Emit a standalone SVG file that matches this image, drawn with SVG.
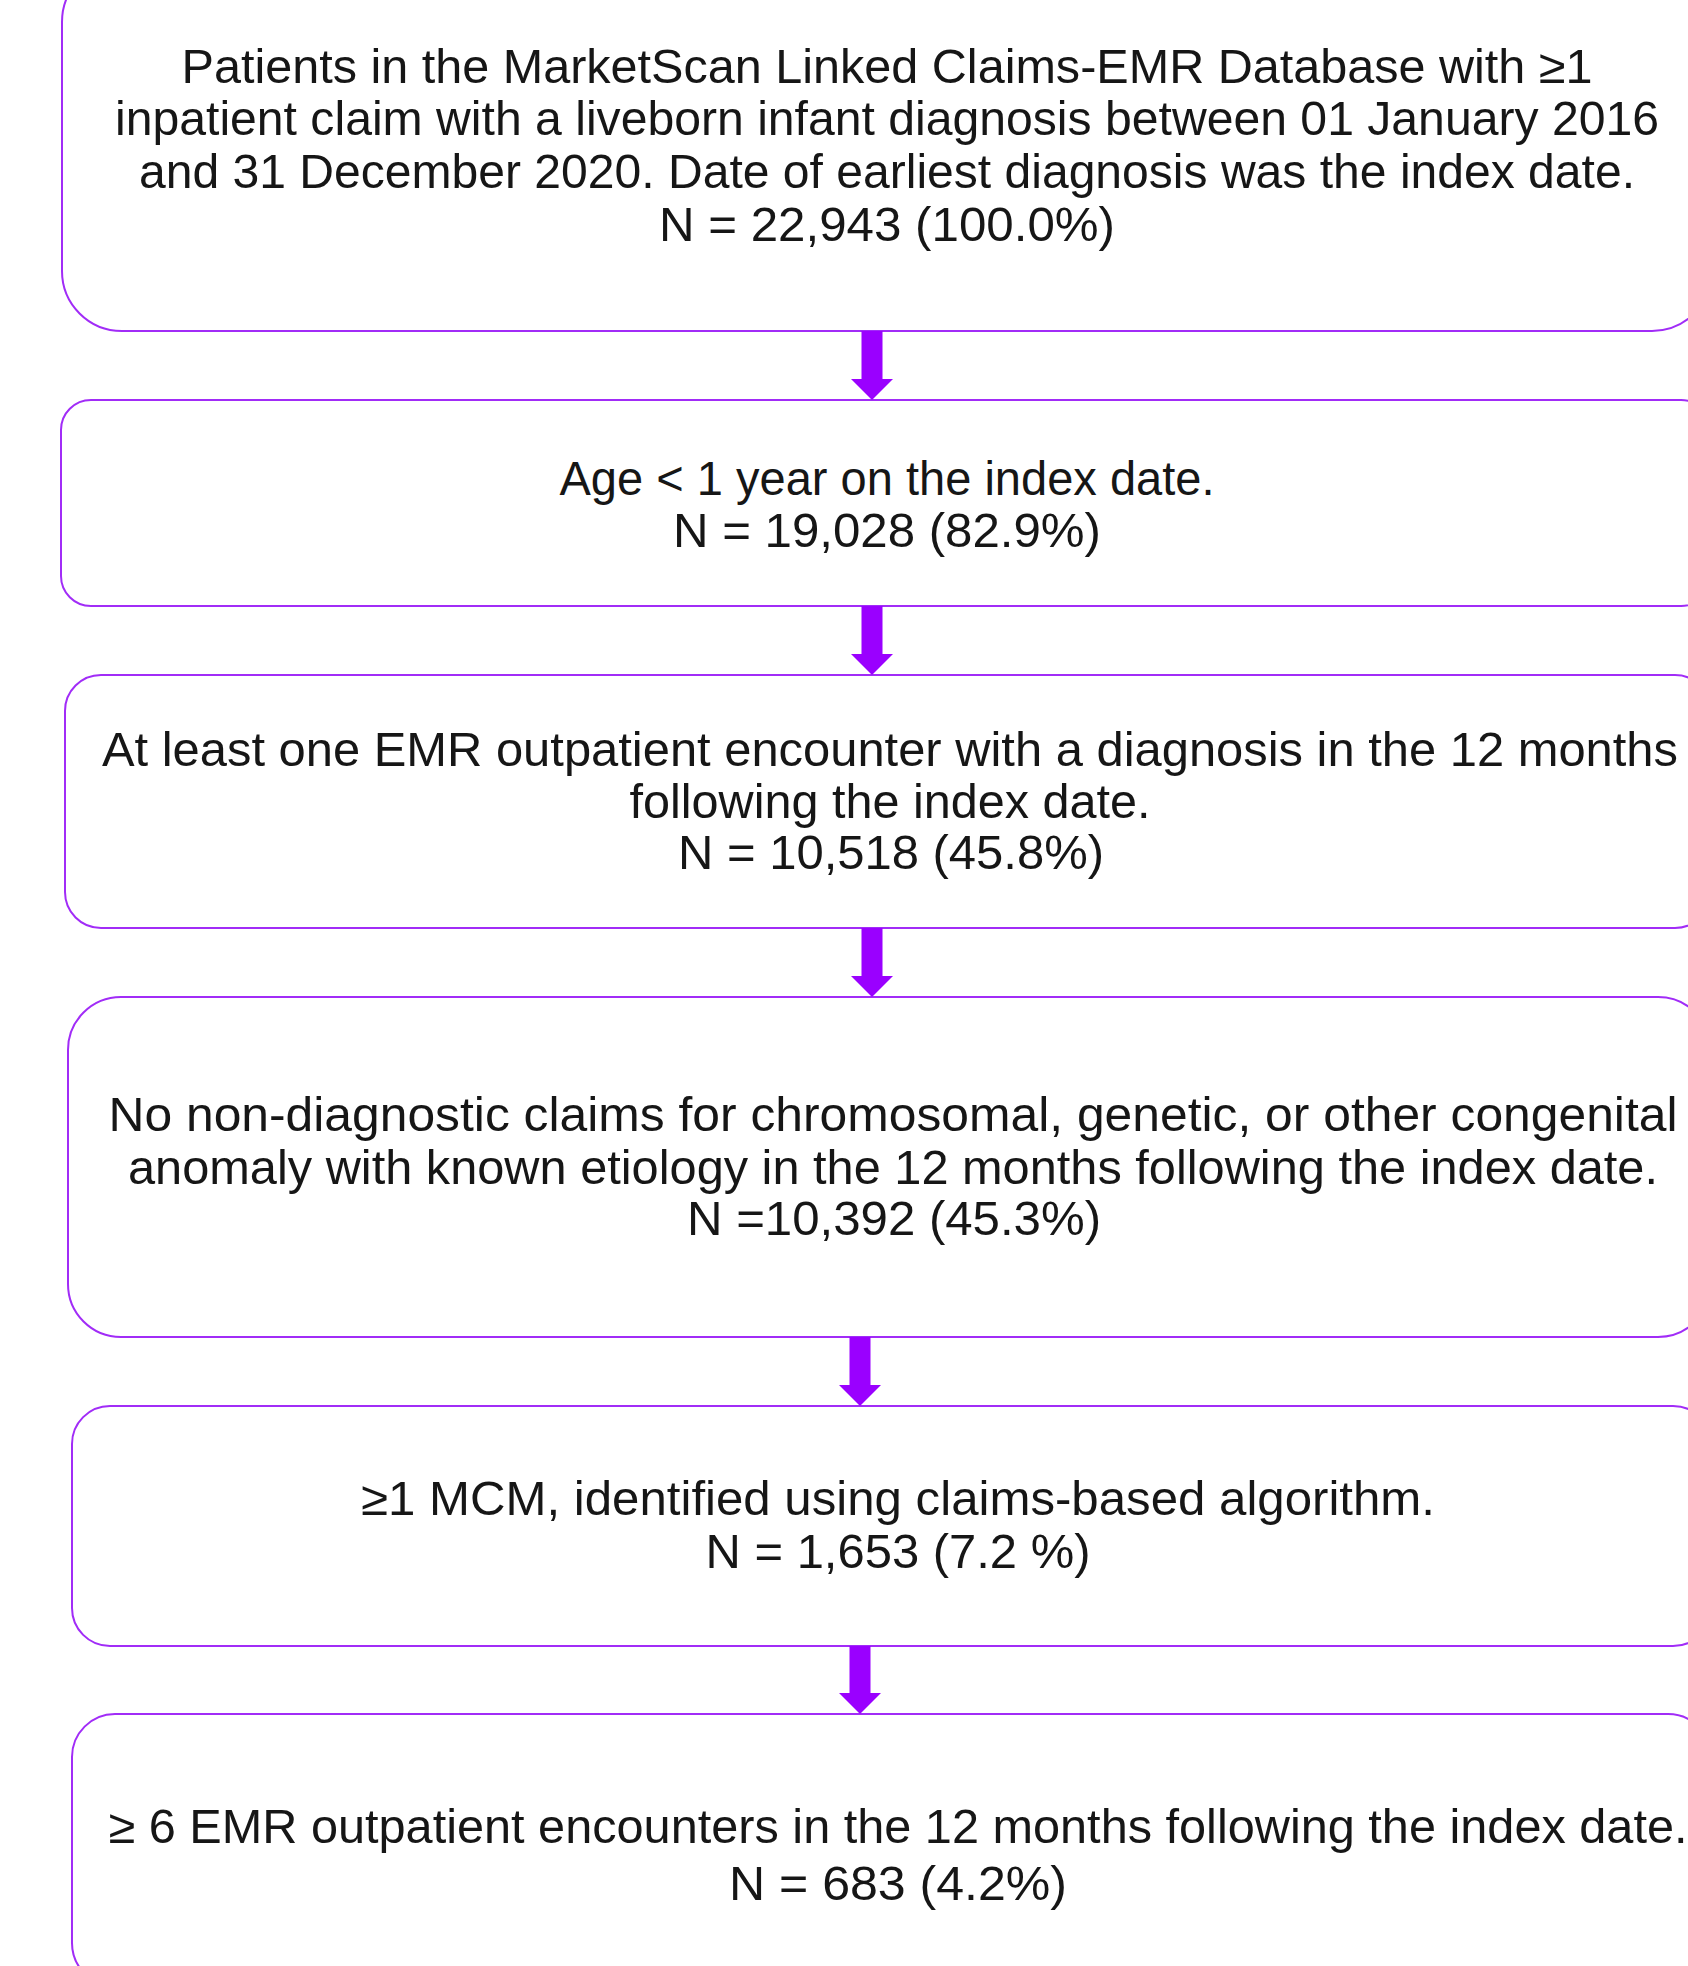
<svg xmlns="http://www.w3.org/2000/svg" width="1688" height="1966" viewBox="0 0 1688 1966">
<style>
.box{fill:#ffffff;stroke:#a12cf7;stroke-width:2}
.t{font-family:"Liberation Sans",Arial,sans-serif;font-size:48px;fill:#161616;text-anchor:middle}
.arr{fill:#9a00ff}
</style>
<rect width="1688" height="1966" fill="#ffffff"/>
<g id="node1">
<rect class="box" x="62" y="-38" width="1650" height="369" rx="60" ry="60"/>
<text class="t" x="887" y="83" textLength="1411" lengthAdjust="spacingAndGlyphs">Patients in the MarketScan Linked Claims-EMR Database with ≥1</text>
<text class="t" x="887" y="135" textLength="1544" lengthAdjust="spacingAndGlyphs">inpatient claim with a liveborn infant diagnosis between 01 January 2016</text>
<text class="t" x="887" y="188" textLength="1496" lengthAdjust="spacingAndGlyphs">and 31 December 2020. Date of earliest diagnosis was the index date.</text>
<text class="t" x="887" y="241" textLength="456" lengthAdjust="spacingAndGlyphs">N = 22,943 (100.0%)</text>
</g>
<g id="node2">
<rect class="box" x="61" y="400" width="1650" height="206" rx="30" ry="30"/>
<text class="t" x="887" y="495" textLength="655" lengthAdjust="spacingAndGlyphs">Age &lt; 1 year on the index date.</text>
<text class="t" x="887" y="547" textLength="428" lengthAdjust="spacingAndGlyphs">N = 19,028 (82.9%)</text>
</g>
<g id="node3">
<rect class="box" x="65" y="675" width="1646" height="253" rx="36" ry="36"/>
<text class="t" x="890" y="766" textLength="1576" lengthAdjust="spacingAndGlyphs">At least one EMR outpatient encounter with a diagnosis in the 12 months</text>
<text class="t" x="890" y="818" textLength="521" lengthAdjust="spacingAndGlyphs">following the index date.</text>
<text class="t" x="891" y="869" textLength="426" lengthAdjust="spacingAndGlyphs">N = 10,518 (45.8%)</text>
</g>
<g id="node4">
<rect class="box" x="68" y="997" width="1643" height="340" rx="53" ry="53"/>
<text class="t" x="893" y="1131" textLength="1569" lengthAdjust="spacingAndGlyphs">No non-diagnostic claims for chromosomal, genetic, or other congenital</text>
<text class="t" x="893" y="1184" textLength="1530" lengthAdjust="spacingAndGlyphs">anomaly with known etiology in the 12 months following the index date.</text>
<text class="t" x="894" y="1235" textLength="414" lengthAdjust="spacingAndGlyphs">N =10,392 (45.3%)</text>
</g>
<g id="node5">
<rect class="box" x="72" y="1406" width="1639" height="240" rx="38" ry="38"/>
<text class="t" x="898" y="1515" textLength="1074" lengthAdjust="spacingAndGlyphs">≥1 MCM, identified using claims-based algorithm.</text>
<text class="t" x="898" y="1568" textLength="385" lengthAdjust="spacingAndGlyphs">N = 1,653 (7.2 %)</text>
</g>
<g id="node6">
<rect class="box" x="72" y="1714" width="1639" height="272" rx="43" ry="43"/>
<text class="t" x="898" y="1843" textLength="1579" lengthAdjust="spacingAndGlyphs">≥ 6 EMR outpatient encounters in the 12 months following the index date.</text>
<text class="t" x="898" y="1900" textLength="338" lengthAdjust="spacingAndGlyphs">N = 683 (4.2%)</text>
</g>
<g id="connectors">
<polygon class="arr" points="861.5,331 882.5,331 882.5,379 893,379 872,400 851,379 861.5,379"/>
<polygon class="arr" points="861.5,606 882.5,606 882.5,654 893,654 872,675 851,654 861.5,654"/>
<polygon class="arr" points="861.5,928 882.5,928 882.5,976 893,976 872,997 851,976 861.5,976"/>
<polygon class="arr" points="849.5,1337 870.5,1337 870.5,1385 881,1385 860,1406 839,1385 849.5,1385"/>
<polygon class="arr" points="849.5,1646 870.5,1646 870.5,1693 881,1693 860,1714 839,1693 849.5,1693"/>
</g>
</svg>
